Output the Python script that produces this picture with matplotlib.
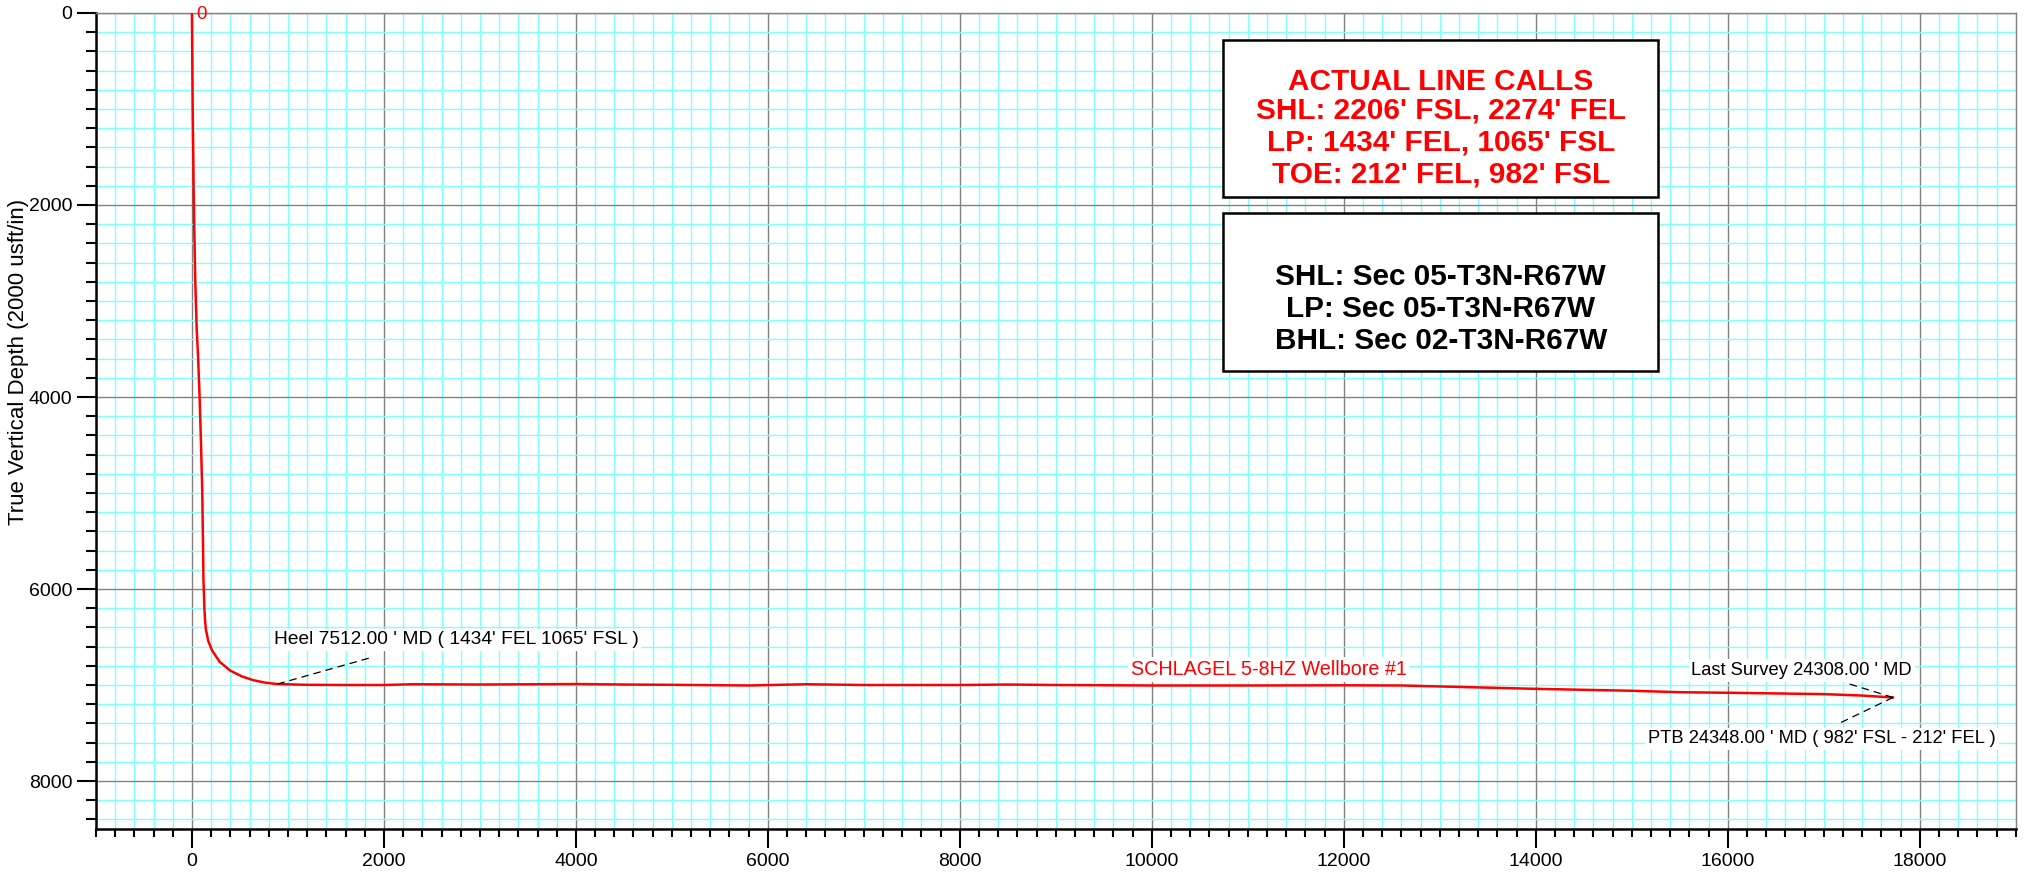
import numpy as np
import matplotlib
matplotlib.use('Agg')
import matplotlib.pyplot as plt
from matplotlib.patches import Rectangle
from matplotlib.ticker import MultipleLocator

plt.rcParams['font.family'] = ['Liberation Sans', 'DejaVu Sans']

# wellbore path: vertical section (usft) vs true vertical depth (usft)
vs = [0, 8, 20, 35, 50, 65, 80, 95, 108, 115, 120, 130, 135, 145, 170, 210, 290, 400,
      520, 640, 760, 890, 1200, 1600, 2000, 2300, 3000, 4000, 4500, 5000, 5800, 6400,
      7000, 8000, 8500, 9000, 10000, 11000, 12000, 12600, 13200, 14000, 15000, 15500,
      16100, 17000, 17400, 17720]
tvd = [0, 1000, 2000, 2800, 3300, 3600, 4000, 4500, 5000, 5500, 5900, 6200, 6300, 6420,
       6540, 6640, 6760, 6850, 6910, 6950, 6975, 6990, 6998, 7000, 7000, 6992, 6995,
       6990, 6995, 6998, 7005, 6992, 7000, 7000, 6995, 7000, 7005, 7005, 7003, 7005,
       7020, 7040, 7060, 7075, 7082, 7095, 7110, 7130]

wellname = "SCHLAGEL 5-8HZ Wellbore #1"
heel_txt = "Heel 7512.00 ' MD ( 1434' FEL 1065' FSL )"
last_txt = "Last Survey 24308.00 ' MD"
ptb_txt = "PTB 24348.00 ' MD ( 982' FSL - 212' FEL )"
calls = ["ACTUAL LINE CALLS", "SHL: 2206' FSL, 2274' FEL",
         "LP: 1434' FEL, 1065' FSL", "TOE: 212' FEL, 982' FSL"]
calls_y = [720, 1020, 1345, 1680]
secs = ["SHL: Sec 05-T3N-R67W", "LP: Sec 05-T3N-R67W", "BHL: Sec 02-T3N-R67W"]
secs_y = [2755, 3080, 3415]

fig = plt.figure(figsize=(20.28, 8.72), dpi=100)
ax = fig.add_axes([0.0473, 0.0493, 0.9467, 0.9358])

ax.set_xlim(-1000, 19000)
ax.set_ylim(8500, 0)

ax.xaxis.set_major_locator(MultipleLocator(2000))
ax.xaxis.set_minor_locator(MultipleLocator(200))
ax.yaxis.set_major_locator(MultipleLocator(2000))
ax.yaxis.set_minor_locator(MultipleLocator(200))

ax.grid(which='minor', color='#80FFFF', lw=1.0, zorder=0)
ax.grid(which='major', color='#808080', lw=1.0, zorder=0.5)
ax.set_axisbelow(True)

ax.tick_params(which='major', direction='out', length=14, width=1.5, labelsize=14, pad=3)
ax.tick_params(axis='x', which='minor', direction='out', length=6, width=1.5)
ax.tick_params(axis='y', which='minor', direction='out', length=7, width=1.5)

for s in ['left', 'bottom']:
    ax.spines[s].set_linewidth(1.8)
    ax.spines[s].set_color('black')
for s in ['top', 'right']:
    ax.spines[s].set_linewidth(1.0)
    ax.spines[s].set_color('#808080')

ax.set_ylabel('True Vertical Depth (2000 usft/in)', fontsize=16)
ax.yaxis.set_label_coords(-0.035, 0.572)

ax.plot(vs, tvd, color='red', lw=1.8, zorder=3)
ax.text(40, 20, '0', color='red', fontsize=13.5, ha='left', va='center', zorder=4)

box = dict(facecolor='white', edgecolor='none', pad=2)

# heel label
ax.plot([890, 1880], [6990, 6710], color='black', lw=0.9, ls=(0, (6, 4)), zorder=3)
ax.text(850, 6530, heel_txt, fontsize=13.8, ha='left', va='center', bbox=box, zorder=4)

# well name
ax.text(9780, 6840, wellname, color='red', fontsize=14.2, ha='left', va='center',
        bbox=box, zorder=4)

# last survey / PTB
ax.plot([17270, 17720], [6990, 7130], color='black', lw=0.9, ls=(0, (6, 4)), zorder=3)
ax.plot([17180, 17720], [7390, 7130], color='black', lw=0.9, ls=(0, (6, 4)), zorder=3)
ax.text(15620, 6850, last_txt, fontsize=13.2, ha='left', va='center', bbox=box, zorder=4)
ax.text(15170, 7560, ptb_txt, fontsize=13.2, ha='left', va='center', bbox=box, zorder=4)

# info boxes
bx0, bx1 = 10745, 15275
ax.add_patch(Rectangle((bx0, 280), bx1 - bx0, 1641, facecolor='white', edgecolor='black',
                       lw=1.8, zorder=5))
ax.add_patch(Rectangle((bx0, 2087), bx1 - bx0, 1643, facecolor='white', edgecolor='black',
                       lw=1.8, zorder=5))
xc = (bx0 + bx1) / 2
for t, y in zip(calls, calls_y):
    ax.text(xc, y, t, color='red', fontsize=21.4, fontweight='bold', ha='center',
            va='center', zorder=6)
for t, y in zip(secs, secs_y):
    ax.text(xc, y, t, color='black', fontsize=21.4, fontweight='bold', ha='center',
            va='center', zorder=6)

fig.savefig('out.png', dpi=100)
